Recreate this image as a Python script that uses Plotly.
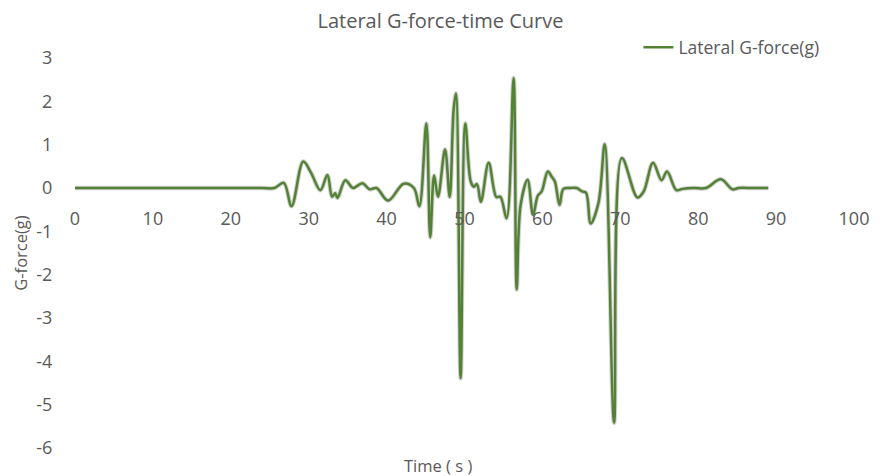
import plotly.graph_objects as go

# Lateral acceleration record (time in seconds, lateral G-force in g)
time_s = [0, 5, 10, 15, 20, 24, 25.6, 26.8, 27.8, 29.3, 30.3, 31.5, 32.4, 33.0,
          33.4, 33.7, 34.7, 35.7, 36.9, 37.8, 38.7, 40.2, 42.2, 43.5, 44.2,
          45.1, 45.6, 46.1, 46.6, 47.5, 48.1, 48.6, 48.9, 49.5, 50.1, 50.8,
          51.2, 51.6, 52.1, 53.1, 54.1, 54.6, 55.4, 56.3, 56.7, 57.2, 58.1,
          58.8, 59.4, 59.9, 60.7, 61.2, 61.6, 62.2, 62.7, 63.6, 64.4, 65.1,
          65.6, 66.2, 67.2, 68.0, 69.2, 70.2, 72.2, 73.0, 74.2, 75.3, 76.0,
          77.2, 78.0, 79.5, 81.0, 82.9, 84.4, 85.2, 87.0, 89.0]
lateral_g = [0, 0, 0, 0, 0, 0, 0, 0.12, -0.42, 0.61, 0.35, -0.05, 0.30, -0.20,
             -0.12, -0.23, 0.18, 0.0, 0.11, -0.03, 0.0, -0.29, 0.10, 0.0, -0.42,
             1.49, -1.14, 0.29, -0.20, 0.89, -0.21, 1.79, 2.18, -4.39, 1.49,
             0.15, 0.03, 0.09, -0.32, 0.58, -0.21, -0.20, -0.70, 2.54, -2.34,
             -0.40, 0.19, -0.62, -0.18, -0.08, 0.38, 0.26, 0.15, -0.39, -0.02,
             0.0, 0.0, -0.08, -0.11, -0.82, -0.34, 1.01, -5.42, 0.69, -0.22,
             -0.08, 0.58, 0.18, 0.38, -0.05, -0.02, 0.0, 0.0, 0.20, -0.03, 0.0,
             0.0, 0.0]

x_ticks = [0, 10, 20, 30, 40, 50, 60, 70, 80, 90, 100]
y_ticks = [3, 2, 1, 0, -1, -2, -3, -4, -5, -6]

LINE_GREEN = "#548235"
TEXT_GREY = "#595959"
FONT = "Open Sans"

fig = go.Figure()

# soft shadow under the curve
fig.add_trace(go.Scatter(
    x=time_s, y=lateral_g, mode="lines",
    line=dict(color="rgba(0,0,0,0.18)", width=4.5, shape="spline", smoothing=1),
    showlegend=False, hoverinfo="skip",
))
fig.add_trace(go.Scatter(
    x=time_s, y=lateral_g, mode="lines", name="Lateral G-force(g)",
    line=dict(color=LINE_GREEN, width=2.5, shape="spline", smoothing=1),
))

fig.update_layout(
    width=881, height=476,
    margin=dict(l=75, r=22, t=58, b=28),
    paper_bgcolor="white", plot_bgcolor="white",
    font=dict(family=FONT, color=TEXT_GREY, size=16),
    title=dict(text="Lateral G-force-time Curve", x=0.5, xanchor="center",
               y=0.955, yanchor="middle", font=dict(size=20, color=TEXT_GREY)),
    legend=dict(x=0.962, y=1.027, xanchor="right", yanchor="middle",
                font=dict(size=17.5, color=TEXT_GREY), bgcolor="rgba(0,0,0,0)",
                itemwidth=30),
    showlegend=True,
    xaxis=dict(
        range=[0, 100], tickvals=x_ticks, ticktext=[str(v) for v in x_ticks],
        anchor="free", position=6 / 9, showgrid=False, zeroline=False,
        showline=False, ticks="outside", ticklen=14, tickcolor="rgba(0,0,0,0)",
        tickfont=dict(size=18, color=TEXT_GREY),
    ),
    yaxis=dict(
        range=[-6, 3], tickvals=y_ticks, ticktext=[str(v) for v in y_ticks],
        showgrid=False, zeroline=False, showline=False,
        ticks="outside", ticklen=18, tickcolor="rgba(0,0,0,0)",
        tickfont=dict(size=18, color=TEXT_GREY),
        title=dict(text="G-force(g)", standoff=4, font=dict(size=16.5, color=TEXT_GREY)),
    ),
    annotations=[dict(
        text="Time ( s )", xref="paper", yref="paper", x=0.466, y=0,
        xanchor="center", yanchor="top", yshift=-4, showarrow=False,
        font=dict(size=16.5, color=TEXT_GREY),
    )],
)

fig.write_html("out.html")
